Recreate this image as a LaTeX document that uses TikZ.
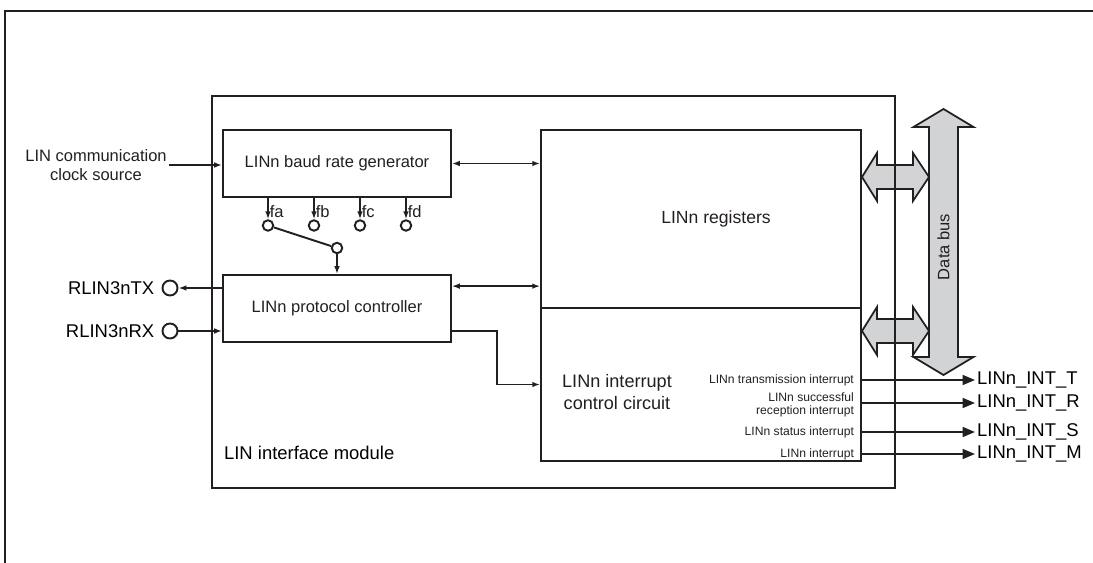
\documentclass[tikz,border=0pt]{standalone}
\usepackage{fontspec}
\setmainfont{Liberation Sans}
\usetikzlibrary{arrows.meta, positioning}
\definecolor{inkcol}{RGB}{35,31,32}
\definecolor{buscol}{RGB}{209,211,212}

\begin{document}
\begin{tikzpicture}[
    x=0.02cm, y=-0.02cm,
    box/.style={draw=inkcol, line width=1pt, inner sep=0pt, text=inkcol, font=\fontsize{9.4}{11}\selectfont},
    pin/.style={draw=inkcol, line width=1.1pt, circle, fill=white, minimum size=0.21cm, inner sep=0pt},
    bigpin/.style={pin, minimum size=0.3cm},
    txt/.style={text=inkcol, inner sep=1pt, font=\fontsize{9.4}{10.8}\selectfont},
    big/.style={text=black, inner sep=1pt, font=\fontsize{10.5}{13}\selectfont},
    tiny/.style={text=inkcol, inner sep=1pt, align=right, font=\fontsize{6.9}{7.2}\selectfont},
    arr/.style={draw=inkcol, line width=1.1pt, -{Latex[length=4.5pt, width=3.2pt]}},
    biarr/.style={draw=inkcol, line width=1.1pt, {Latex[length=4.5pt, width=3.2pt]}-{Latex[length=4.5pt, width=3.2pt]}},
    outarr/.style={draw=inkcol, line width=1pt, -{Triangle[length=7pt, width=5.6pt]}},
    bus/.style={draw=inkcol, line width=1pt, fill=buscol, line join=miter}
  ]
  \useasboundingbox (0,0) rectangle (1093,563);
  % outer frame
  \draw[inkcol, line width=1.6pt] (5,563) -- (5,11) -- (1093,11);

  % data bus and its two taps
  \filldraw[bus] (943.5,109) -- (973.5,127) -- (958,127) -- (958,357) -- (973.5,357)
    -- (943.5,375) -- (913.5,357) -- (929,357) -- (929,127) -- (913.5,127) -- cycle;
  \foreach \yc in {177,331}
    \filldraw[bus] (862,\yc) -- (877,\yc-24) -- (877,\yc-12) -- (913,\yc-12) -- (913,\yc-24)
      -- (929,\yc) -- (913,\yc+24) -- (913,\yc+12) -- (877,\yc+12) -- (877,\yc+24) -- cycle;
  \node[txt, rotate=90] (buslbl) at (943.5,247) {Data bus};

  % blocks
  \node[box, minimum width=13.66cm, minimum height=7.84cm] (module) at (553.5,292) {};
  \node[big, anchor=west] (modlbl) at (222,453) {LIN interface module};
  \node[box, minimum width=4.56cm, minimum height=1.34cm] (baud) at (337,163.5) {LINn baud rate generator};
  \node[box, minimum width=4.56cm, minimum height=1.34cm] (proto) at (337,308.5) {LINn protocol controller};
  \node[box, minimum width=6.4cm, minimum height=3.56cm] (regs) at (701,219) {};
  \node[txt, font=\fontsize{10}{12}\selectfont] (regtxt) at (716,219) {LINn registers};
  \node[box, minimum width=6.4cm, minimum height=3.06cm] (intc) at (701,384.5) {};
  \node[big, align=center, text=inkcol, font=\fontsize{10.3}{13}\selectfont] (inttxt) at (617,392) {LINn interrupt\\control circuit};

  % clock source
  \node[txt, align=center] (clk) at (96,165) {LIN communication\\clock source};
  \draw[arr] (clk.east) -- (clk.east -| baud.west);

  % clock selection
  \foreach \n/\x in {a/268, b/314, c/360, d/406} {
    \node[pin] (c\n) at (\x,225.5) {};
    \draw[arr] (c\n |- baud.south) -- node[txt, anchor=west, pos=0.65, inner sep=0.5pt] (l\n) {f\n} (c\n.north);
  }
  \node[pin] (csel) at (337,248) {};
  \draw[inkcol, line width=1.1pt] (ca) -- (csel);
  \draw[arr] (csel.south) -- (csel |- proto.north);

  % pins
  \node[bigpin] (ctx) at (170,288) {};
  \node[bigpin] (crx) at (170,331) {};
  \node[big, left=3pt of ctx] (tx) {RLIN3nTX};
  \node[big, left=3pt of crx] (rx) {RLIN3nRX};
  \draw[arr] (ctx -| proto.west) -- (ctx.east);
  \draw[arr] (crx.east) -- (crx -| proto.west);

  % register access
  \draw[biarr] (baud.east) -- (baud.east -| regs.west);
  \draw[biarr] (proto.north east) ++(0,12) coordinate (pr) -- (pr -| regs.west);
  \draw[arr] (crx -| proto.east) -- ++(45,0) |- (intc.west);

  % interrupt outputs
  \node[tiny, anchor=east] (lt) at (856,380) {LINn transmission interrupt};
  \node[tiny, anchor=east] (lr) at (856,405) {LINn successful\\reception interrupt};
  \node[tiny, anchor=east] (ls) at (856,432) {LINn status interrupt};
  \node[tiny, anchor=east] (lm) at (856,454) {LINn interrupt};
  \node[big, anchor=west] (ot) at (975,380) {LINn\_INT\_T};
  \node[big, anchor=west] (or) at (975,403) {LINn\_INT\_R};
  \node[big, anchor=west] (os) at (975,432) {LINn\_INT\_S};
  \node[big, anchor=west] (om) at (975,454) {LINn\_INT\_M};
  \foreach \o in {ot, or, os, om}
    \draw[outarr] (\o -| intc.east) -- (\o.west);
\end{tikzpicture}
\end{document}
